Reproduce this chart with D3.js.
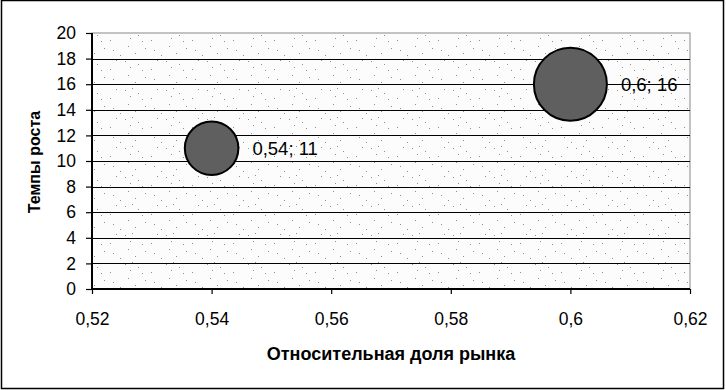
<!DOCTYPE html>
<html>
<head>
<meta charset="utf-8">
<script src="https://cdn.jsdelivr.net/npm/d3@7"></script>
<style>
  body { margin: 0; background: #fff; }
  text { font-family: Arial, "Liberation Sans", sans-serif; fill: #000; }
</style>
</head>
<body>
<script>
var width = 726, height = 390;

// data
var shares = [0.54, 0.6];
var growth = [11, 16];
var sizes = [7, 13];
var labels = ["0,54; 11", "0,6; 16"];
var xTicks = [0.52, 0.54, 0.56, 0.58, 0.6, 0.62];
var yTicks = [0, 2, 4, 6, 8, 10, 12, 14, 16, 18, 20];

var margin = {left: 92, right: 36, top: 33, bottom: 101};

var x = d3.scaleLinear().domain([0.52, 0.62]).range([margin.left, width - margin.right]);
var y = d3.scaleLinear().domain([0, 20]).range([height - margin.bottom, margin.top]);
var r = d3.scaleSqrt().domain([0, 13]).range([0, 36.5]);

var fmt = function(d){ return String(d).replace(".", ","); };

var svg = d3.select("body").append("svg")
    .attr("width", width).attr("height", height);

// stipple pattern for plot area
var defs = svg.append("defs");
var pat = defs.append("pattern").attr("id", "stipple")
    .attr("patternUnits", "userSpaceOnUse").attr("width", 41).attr("height", 29);
pat.append("rect").attr("width", 41).attr("height", 29).attr("fill", "#fcfcfc");
[[2,3],[9,1],[15,6],[28,11],[5,17],[12,24],[34,2],[22,19],[38,26],[19,12],[31,21],[7,9]].forEach(function(p){
  pat.append("rect").attr("x", p[0]).attr("y", p[1]).attr("width", 1).attr("height", 1).attr("fill", "#909090");
});

// outer frame
svg.append("rect").attr("x", 1.5).attr("y", 0.5).attr("width", width - 4).attr("height", height - 2)
    .attr("fill", "none").attr("stroke", "#000").attr("stroke-width", 1.5);

// plot area
svg.append("rect")
    .attr("x", x(0.52)).attr("y", y(20))
    .attr("width", x(0.62) - x(0.52)).attr("height", y(0) - y(20))
    .attr("fill", "url(#stipple)").attr("stroke", "#888").attr("stroke-width", 1);

// gridlines
svg.append("g").selectAll("line").data(yTicks.filter(function(d){ return d > 0 && d < 20; }))
  .enter().append("line")
    .attr("x1", x(0.52)).attr("x2", x(0.62))
    .attr("y1", function(d){ return Math.round(y(d)) + 0.5; })
    .attr("y2", function(d){ return Math.round(y(d)) + 0.5; })
    .attr("stroke", "#000").attr("stroke-width", 1.2);

// axes
var yAxis = svg.append("g").attr("transform", "translate(" + x(0.52) + ",0)")
    .call(d3.axisLeft(y).tickValues(yTicks).tickSize(6).tickPadding(10).tickFormat(fmt));
var xAxis = svg.append("g").attr("transform", "translate(0," + y(0) + ")")
    .call(d3.axisBottom(x).tickValues(xTicks).tickSize(5).tickPadding(19).tickFormat(fmt));
[yAxis, xAxis].forEach(function(a){
  a.select(".domain").attr("stroke", "#000").attr("stroke-width", 2);
  a.selectAll(".tick line").attr("stroke", "#000").attr("stroke-width", 1.2);
  a.selectAll("text").style("font-size", "17.5px").attr("fill", "#000");
});
xAxis.select(".domain").attr("d", "M" + x(0.52) + ",0H" + x(0.62));
yAxis.select(".domain").attr("d", "M0," + y(0) + "V" + y(20));

// bubbles
var pts = shares.map(function(s, i){ return {x: s, y: growth[i], size: sizes[i], label: labels[i]}; });
svg.append("g").selectAll("circle").data(pts).enter().append("circle")
    .attr("cx", function(d){ return x(d.x); })
    .attr("cy", function(d){ return y(d.y); })
    .attr("r", function(d){ return r(d.size); })
    .attr("fill", "#5f5f5f").attr("stroke", "#000").attr("stroke-width", 2);

svg.append("g").selectAll("text").data(pts).enter().append("text")
    .attr("x", function(d){ return x(d.x) + r(d.size) + 14; })
    .attr("y", function(d){ return y(d.y); })
    .attr("dy", "0.35em")
    .style("font-size", "18.5px")
    .text(function(d){ return d.label; });

// axis titles
svg.append("text").attr("x", (x(0.52) + x(0.62)) / 2).attr("y", 360)
    .attr("text-anchor", "middle").style("font-size", "18px").style("font-weight", "bold")
    .text("Относительная доля рынка");
svg.append("text").attr("transform", "translate(40," + (y(10) + 1) + ") rotate(-90)")
    .attr("text-anchor", "middle").style("font-size", "16px").style("font-weight", "bold")
    .text("Темпы роста");
</script>
</body>
</html>
